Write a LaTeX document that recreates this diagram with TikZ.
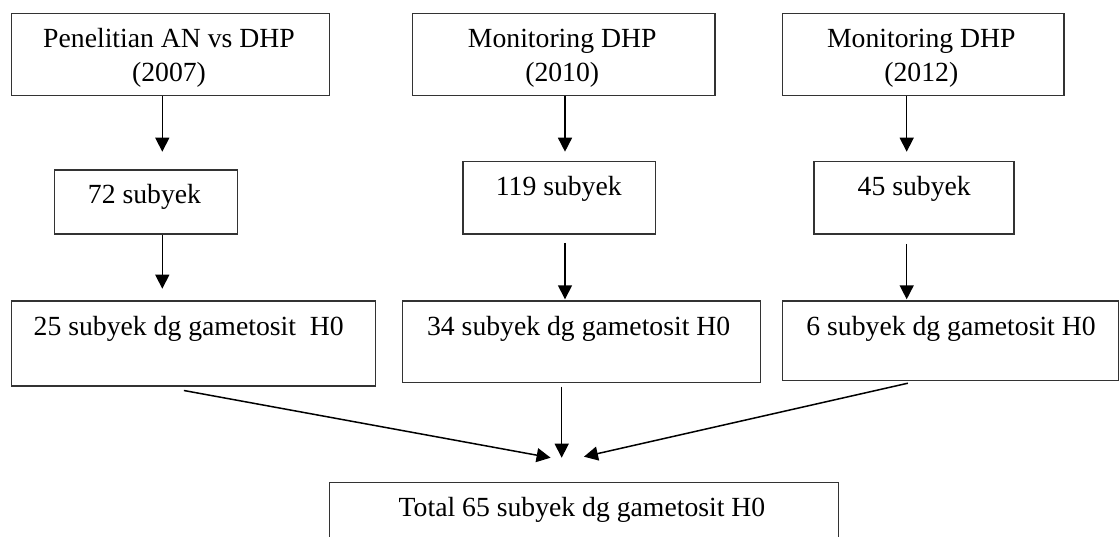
\documentclass[tikz,border=0pt]{standalone}
\usepackage{fontspec}
\setmainfont{Liberation Serif}
\usetikzlibrary{arrows.meta,calc}
\begin{document}
\begin{tikzpicture}[x=0.5pt,y=-0.5pt,
  box/.style={draw=black!80,line width=0.6pt,inner sep=0pt,anchor=north west},
  txt/.style={inner sep=0pt,anchor=base,font=\fontsize{13.85}{17}\selectfont},
  ltxt/.style={txt,anchor=base west},
  arr/.style={-{Triangle[length=7pt,width=7pt]},line width=0.75pt,black}]
\useasboundingbox (0,0) rectangle (1120,536);

% top row: sources
\node[box,minimum width=159pt,minimum height=41.15pt] (a1) at (11,12.7) {};
\node[box,minimum width=151.3pt,minimum height=41.15pt] (b1) at (411.7,12.7) {};
\node[box,minimum width=140.8pt,minimum height=41.15pt] (c1) at (781.7,12.7) {};
\node[txt] (a1t1) at (169,47.7) {Penelitian AN vs DHP};
\node[txt] (a1t2) at (169,81) {(2007)};
\node[txt] (b1t1) at (562.2,47.7) {Monitoring DHP};
\node[txt] (b1t2) at (562.2,81) {(2010)};
\node[txt] (c1t1) at (921.3,47.7) {Monitoring DHP};
\node[txt] (c1t2) at (921.3,81) {(2012)};

% second row: subject counts
\node[box,minimum width=91.5pt,minimum height=32pt] (a2) at (54,169.3) {};
\node[box,minimum width=96.35pt,minimum height=36.15pt] (b2) at (462.3,161) {};
\node[box,minimum width=100pt,minimum height=36.15pt] (c2) at (813.3,161) {};
\node[txt] (a2t) at (144.5,203.3) {72 subyek};
\node[txt] (b2t) at (558.8,195) {119 subyek};
\node[txt] (c2t) at (914.2,195) {45 subyek};

% third row: subjects with gametocytes
\node[box,minimum width=182pt,minimum height=42.5pt] (a3) at (11,300.3) {};
\node[box,minimum width=179.15pt,minimum height=40.7pt] (b3) at (401.7,300.3) {};
\node[box,minimum width=168.15pt,minimum height=39.85pt] (c3) at (781.7,300.3) {};
\node[ltxt] (a3t) at (33.3,335) {25 subyek dg gametosit\ \ H0};
\node[ltxt] (b3t) at (426.7,335) {34 subyek dg gametosit H0};
\node[ltxt] (c3t) at (806,335) {6 subyek dg gametosit H0};

% total
\node[box,minimum width=254.35pt,minimum height=35pt] (d) at (329,482) {};
\node[ltxt] (dt) at (398.3,516) {Total 65 subyek dg gametosit H0};

% arrow columns
\coordinate (xA) at (162.3,0);
\coordinate (xB) at (565,0);
\coordinate (xC) at (906.7,0);
\coordinate (xD) at (561.7,0);

\draw[arr,shorten >=8.8pt] (a1.south -| xA) -- (a2.north -| xA);
\draw[arr,shorten >=4.65pt] (b1.south -| xB) -- (b2.north -| xB);
\draw[arr,shorten >=4.65pt] (c1.south -| xC) -- (c2.north -| xC);

\draw[arr,shorten >=5.8pt] (a2.south -| xA) -- (a3.north -| xA);
\draw[arr,shorten <=4.2pt,shorten >=0.5pt] (b2.south -| xB) -- (b3.north -| xB);
\draw[arr,shorten <=4.7pt,shorten >=0.5pt] (c2.south -| xC) -- (c3.north -| xC);

\draw[arr] ($(a3.south)+(-9.7,4)$) -- ($(d.north)+(-33.35,-24.3)$);
\draw[arr,shorten <=1.8pt,shorten >=12.15pt] (b3.south -| xD) -- (d.north -| xD);
\draw[arr] ($(c3.south)+(-42.55,2)$) -- ($(d.north)+(0,-25.3)$);
\end{tikzpicture}
\end{document}
